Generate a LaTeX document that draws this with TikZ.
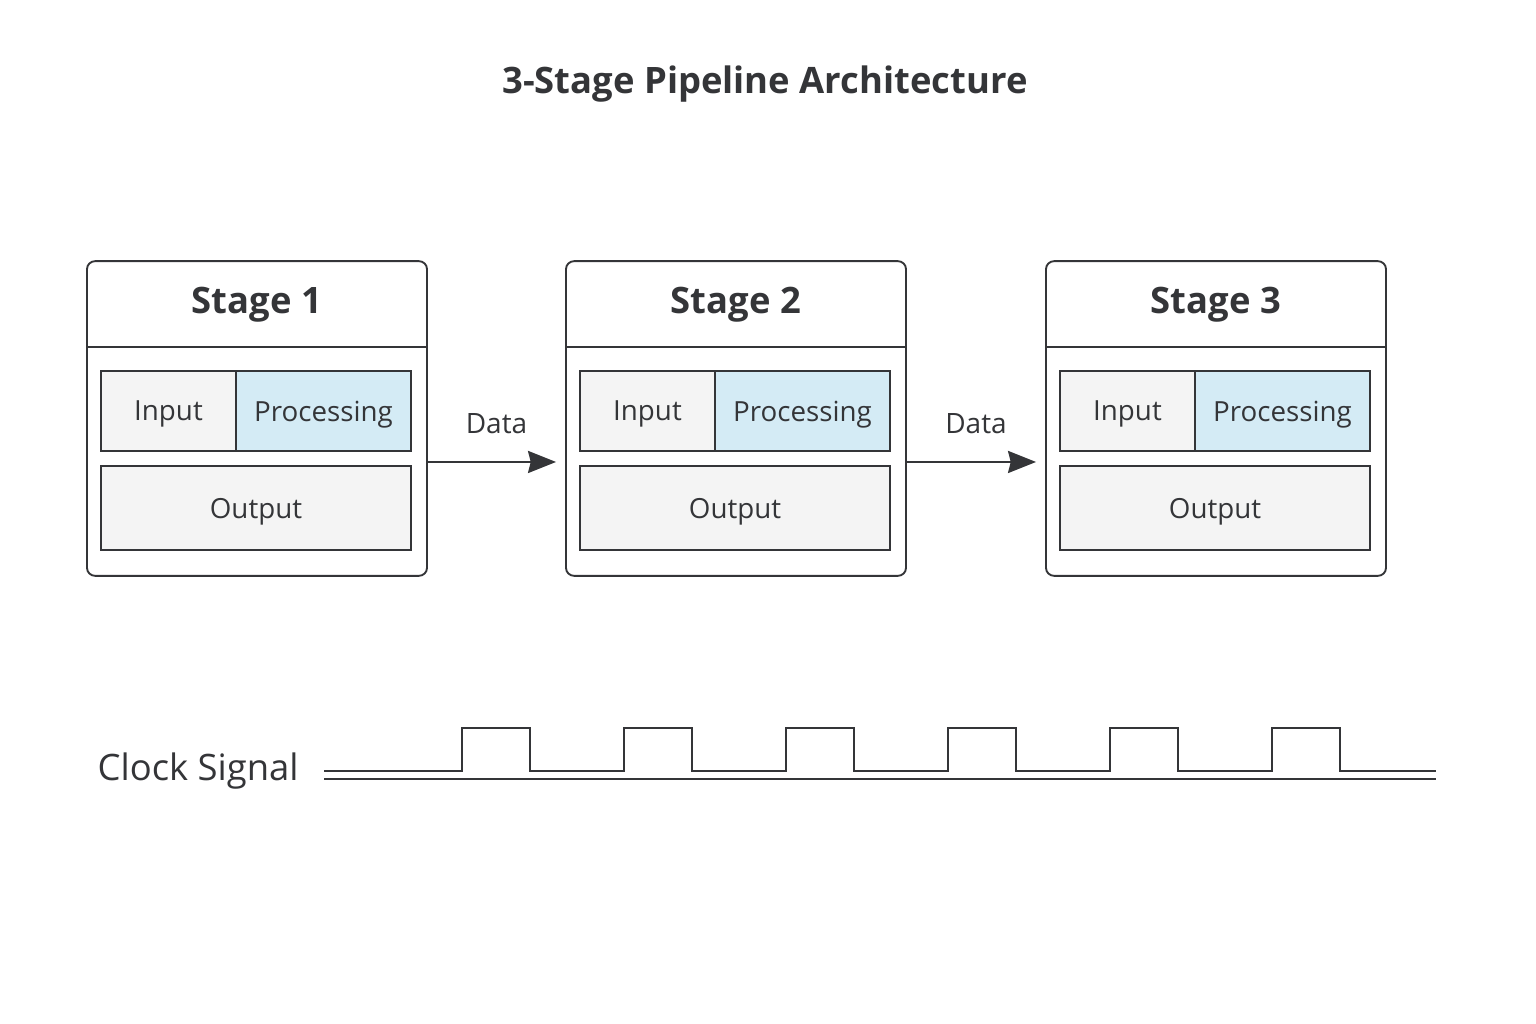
\documentclass[tikz,border=0pt]{standalone}
\usepackage{fontspec}
\setmainfont{Open Sans}
\usetikzlibrary{arrows.meta,positioning}
\definecolor{ink}{HTML}{343538}
\definecolor{cellgray}{HTML}{F4F4F4}
\definecolor{cellblue}{HTML}{D4EBF5}

\begin{document}
\begin{tikzpicture}[
  x=0.75pt, y=-0.75pt,
  stagebox/.style={draw=ink, line width=1.4pt, rounded corners=6pt, fill=white, minimum width=255pt, minimum height=236pt, inner sep=0pt},
  cell/.style={draw=ink, line width=1.8pt, fill=cellgray, minimum height=60pt, inner sep=0pt, text depth=0pt, font=\fontsize{20.8}{25}\selectfont, text=ink},
  title/.style={font=\bfseries\fontsize{27.3}{32}\selectfont, text=ink, text depth=0pt},
  arrow/.style={-{Stealth[length=21pt, width=16.5pt, inset=2pt]}, line width=1.8pt, draw=ink, shorten >=6.75pt},
  wave/.style={draw=ink, line width=2.2pt}
]
\useasboundingbox[fill=white] (0,0) rectangle (1536,1024);
\node[title] (head) at (765,80) {3-Stage Pipeline Architecture};

% stages
\foreach \i/\dx in {1/0, 2/479, 3/959} {
  \node[stagebox] (s\i) at (257+\dx,418.5) {};
  \node[title] (t\i) at (257+\dx,300) {Stage \i};
  \draw[ink, line width=1.4pt] (87+\dx,347) -- (427+\dx,347);
  \node[cell, minimum width=101.25pt] (in\i) at (168.5+\dx,411) {Input};
  \node[cell, minimum width=131.25pt, fill=cellblue] (pr\i) at (323.5+\dx,411) {Processing};
  \node[cell, minimum width=232.5pt, minimum height=63pt] (out\i) at (256+\dx,508) {Output};
}

% data flow
\foreach \a/\b in {s1/s2, s2/s3}
  \draw[arrow] ([yshift=-32.6pt]\a.east) -- ([yshift=-32.6pt]\b.west)
    node[midway, yshift=28.5pt, text depth=0pt, font=\fontsize{21}{25}\selectfont, text=ink] {Data};

% clock
\node[font=\fontsize{27.3}{32}\selectfont, text=ink, text depth=0pt, anchor=west] (clk) at (93,767) {Clock Signal};
\draw[wave] (324,779) -- (1436,779);
\draw[wave, line join=miter] (324,771)
  \foreach \p in {462,624,786,948,1110,1272} { -- (\p,771) -- (\p,728) -- (\p+68,728) -- (\p+68,771) }
  -- (1436,771);
\end{tikzpicture}
\end{document}
